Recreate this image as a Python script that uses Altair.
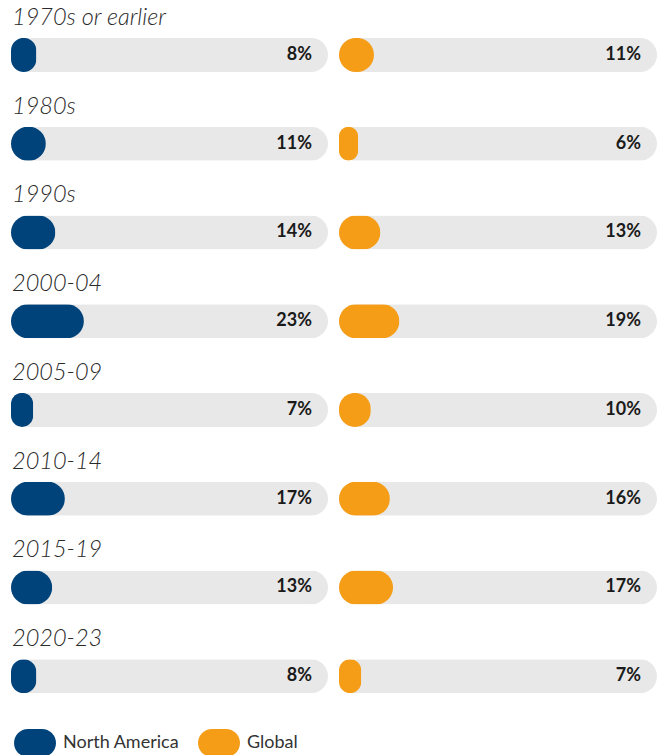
import altair as alt
import pandas as pd

categories = ["1970s or earlier", "1980s", "1990s", "2000-04", "2005-09", "2010-14", "2015-19", "2020-23"]
north_america = [8, 11, 14, 23, 7, 17, 13, 8]
global_share = [11, 6, 13, 19, 10, 16, 17, 7]
series_names = ["North America", "Global"]
series_colors = ["#00437A", "#F59D16"]

PILL = ("M -0.333,-0.667 L 0.333,-0.667 C 0.701,-0.667 1,-0.368 1,0 C 1,0.368 0.701,0.667 0.333,0.667 "
        "L -0.333,0.667 C -0.701,0.667 -1,0.368 -1,0 C -1,-0.368 -0.701,-0.667 -0.333,-0.667 Z")


def frame(values, name):
    return pd.DataFrame({
        "period": categories,
        "value": values,
        "series": name,
        "label": [f"{v}%" for v in values],
        "full": 100,
    })


legend = alt.Legend(
    title=None, orient="none", legendX=3, legendY=711, direction="horizontal",
    symbolType=PILL, symbolSize=1764, symbolStrokeWidth=0, symbolOpacity=1,
    labelFont="Lato", labelFontSize=18, labelColor="#333333", labelOffset=7,
    columnPadding=18,
)

y_enc = alt.Y("period:N", sort=categories, axis=None,
              scale=alt.Scale(paddingInner=0, paddingOuter=0))
x_scale = alt.Scale(domain=[0, 100], nice=False, zero=True)


def panel(df, width, with_labels):
    base = alt.Chart(df).encode(y=y_enc)
    track = base.mark_bar(height=34, cornerRadius=17, color="#E8E8E8").encode(
        x=alt.X("full:Q", scale=x_scale, axis=None))
    bar = base.mark_bar(height=34, cornerRadius=17).encode(
        x=alt.X("value:Q", scale=x_scale, axis=None),
        color=alt.Color("series:N", scale=alt.Scale(domain=series_names, range=series_colors),
                        legend=legend))
    text = base.mark_text(align="right", baseline="middle", dx=-16, font="Lato",
                          fontSize=18, fontWeight="bold", color="#1A1A1A").encode(
        x=alt.datum(100), text="label:N")
    layers = [track, bar, text]
    if with_labels:
        cat = base.mark_text(align="left", baseline="middle", dx=1, dy=-37, font="Lato",
                             fontSize=23.5, fontStyle="italic", fontWeight=300,
                             color="#2A2A2A").encode(x=alt.datum(0), text="period:N")
        layers.append(cat)
    return alt.layer(*layers).properties(width=width, height=710)


left = panel(frame(north_america, "North America"), 317, True)
right = panel(frame(global_share, "Global"), 318, False)

chart = alt.hconcat(left, right, spacing=11).properties(
    padding={"left": 3, "top": -2.5, "right": 0, "bottom": 0}
).configure_view(stroke=None)

chart.save("out.html", embed_options={"renderer": "svg", "actions": False})
